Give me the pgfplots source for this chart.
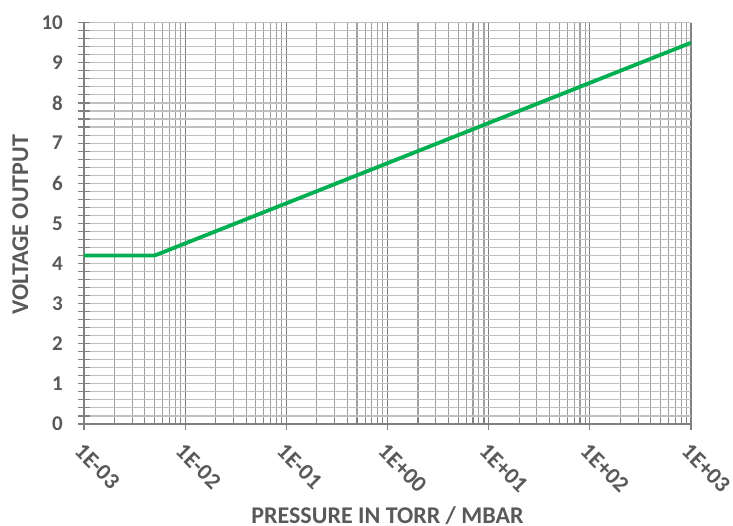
\documentclass[border=0pt]{standalone}
\usepackage{fontspec}
\setmainfont{Carlito}
\usepackage{pgfplots}
\pgfplotsset{compat=1.18}
\definecolor{txt}{HTML}{595959}
\definecolor{grn}{HTML}{00B050}
\definecolor{majg}{HTML}{808080}
\definecolor{ming}{HTML}{A0A0A0}
\definecolor{hg}{HTML}{C0C0C0}
\begin{document}
\begin{tikzpicture}
\useasboundingbox (-84pt,-102pt) rectangle (649pt,424pt);
\begin{axis}[
  at={(0,0)}, anchor=south west, scale only axis,
  width=607pt, height=401.3pt,
  xmode=log, xmin=1e-3, xmax=1e3, ymin=0, ymax=10,
  axis lines*=left,
  axis line style={draw=majg, line width=1.3pt},
  /pgf/number format/assume math mode=true,
  tick label style={text=txt, font=\fontsize{21pt}{25pt}\selectfont\bfseries},
  xtick={1e-3,1e-2,1e-1,1,1e1,1e2,1e3},
  xticklabels={1E-03,1E-02,1E-01,1E+00,1E+01,1E+02,1E+03},
  minor xtick={2e-3,3e-3,4e-3,5e-3,6e-3,7e-3,8e-3,9e-3,
    2e-2,3e-2,4e-2,5e-2,6e-2,7e-2,8e-2,9e-2,
    2e-1,3e-1,4e-1,5e-1,6e-1,7e-1,8e-1,9e-1,
    2,3,4,5,6,7,8,9,
    20,30,40,50,60,70,80,90,
    200,300,400,500,600,700,800,900},
  ytick={0,1,...,10},
  minor y tick num=4,
  grid=both,
  major x grid style={draw=majg, line width=1.3pt},
  minor x grid style={draw=ming, line width=1.1pt},
  major y grid style={draw=hg, line width=1.1pt},
  minor y grid style={draw=hg, line width=1.1pt},
  tick align=center,
  major tick length=12pt, minor tick length=12pt,
  every tick/.style={draw=majg, line width=1.1pt},
  minor x tick style={yshift=3pt, yscale=0.5},
  xticklabel style={rotate=-45, anchor=north west, inner sep=0pt, font=\fontsize{23pt}{27pt}\selectfont\bfseries},
  xticklabel shift=12pt,
  yticklabel style={anchor=east, inner sep=0pt},
  yticklabel shift=15pt,
  xlabel={PRESSURE IN TORR / MBAR},
  ylabel={VOLTAGE OUTPUT},
  label style={text=txt, font=\fontsize{24pt}{28pt}\selectfont\bfseries},
  xlabel style={at={(axis description cs:0.5,-0.248)}, anchor=base},
  ylabel style={at={(axis description cs:-0.092,0.497)}, anchor=base},
]
\addplot[grn, line width=3.8pt] coordinates {
  (0.001,4.2) (0.005012,4.2) (0.01,4.5) (0.1,5.5) (1,6.5) (10,7.5) (100,8.5) (1000,9.5)
};
\end{axis}
\end{tikzpicture}
\end{document}
